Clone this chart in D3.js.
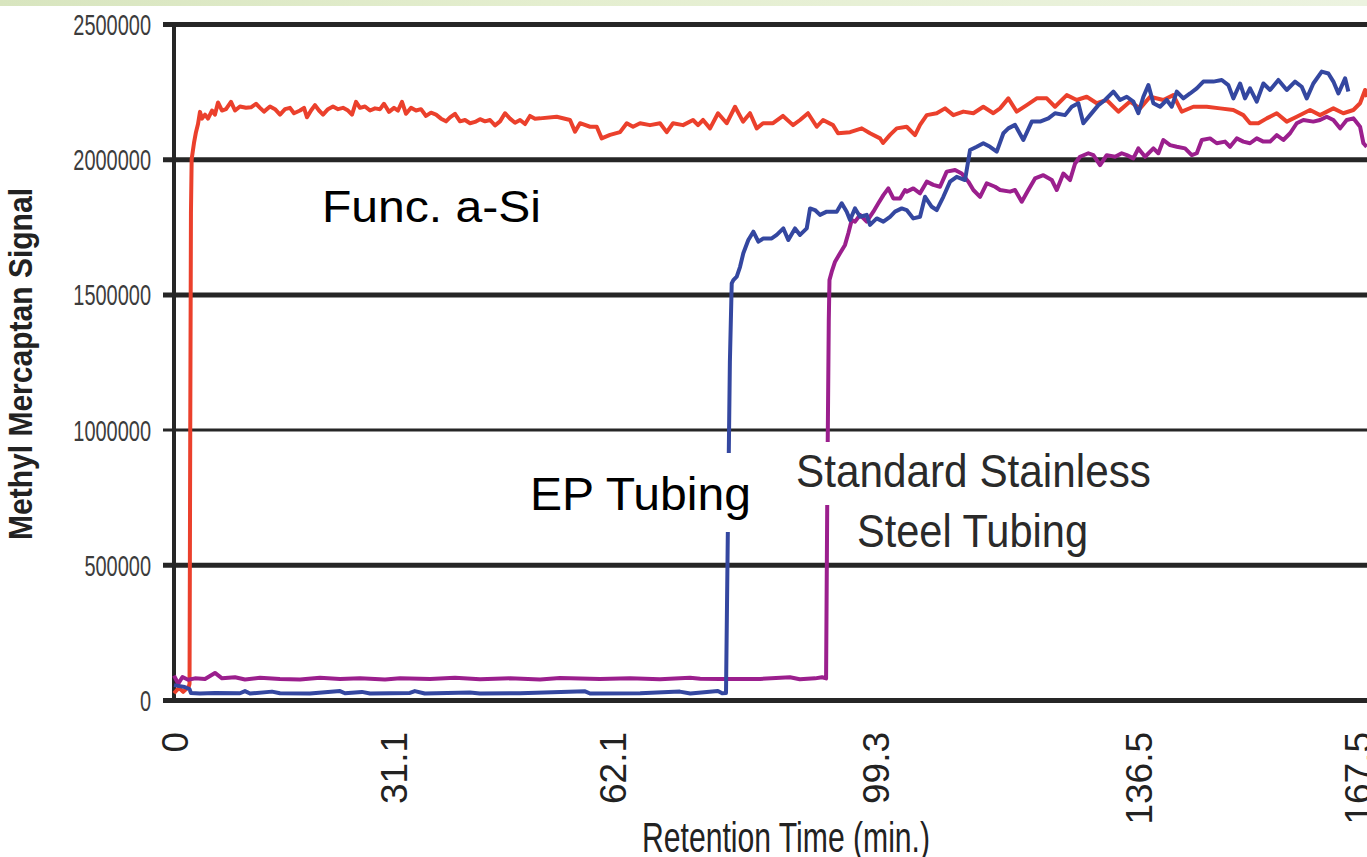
<!DOCTYPE html>
<html>
<head>
<meta charset="utf-8">
<script src="https://cdn.jsdelivr.net/npm/d3@7/dist/d3.min.js"></script>
<style>
  html, body { margin: 0; padding: 0; background: #fff; overflow: hidden; }
  svg { display: block; font-family: "Liberation Sans", Arial, sans-serif; }
</style>
</head>
<body>
<div id="chart"></div>
<script>
// chart values
const yTicks = [0, 500000, 1000000, 1500000, 2000000, 2500000];
const xTicks = [0, 31.1, 62.1, 99.3, 136.5, 167.5];
const xTickLabels = ["0", "31.1", "62.1", "99.3", "136.5", "167.5"];
const xDomain = [0, 168.9];

// [retention time (min), signal]
const funcASi = [
  [0, 25000], [0.7, 45000], [1.3, 30000], [2.1, 50000], [2.2, 60000], [2.3, 1000000], [2.4, 1800000],
  [2.5, 2000000], [2.83, 2060000], [3.11, 2100000], [3.4, 2130000], [3.68, 2175000], [3.96, 2150000],
  [4.39, 2165000], [4.81, 2150000], [5.38, 2180000], [5.8, 2165000], [6.23, 2210000], [6.8, 2180000],
  [7.36, 2185000], [8.07, 2212000], [8.64, 2180000], [9.34, 2195000], [10.19, 2190000], [10.9, 2192000],
  [11.61, 2205000], [12.18, 2190000], [12.74, 2176000], [13.59, 2195000], [14.3, 2185000], [15.01, 2165000],
  [15.72, 2185000], [16.42, 2190000], [16.99, 2170000], [17.84, 2180000], [18.41, 2190000], [18.83, 2155000],
  [19.4, 2180000], [19.96, 2200000], [20.53, 2180000], [21.1, 2165000], [21.8, 2185000], [22.51, 2195000],
  [23.22, 2185000], [23.93, 2190000], [24.64, 2180000], [25.2, 2165000], [25.77, 2212000], [26.33, 2190000],
  [27.04, 2195000], [27.75, 2180000], [28.46, 2188000], [29.17, 2185000], [29.73, 2205000], [30.44, 2175000],
  [31.15, 2190000], [31.71, 2180000], [32.28, 2212000], [32.85, 2168000], [33.56, 2190000], [34.26, 2180000],
  [34.97, 2185000], [35.68, 2160000], [36.39, 2172000], [37.1, 2165000], [37.8, 2150000], [38.51, 2140000],
  [39.08, 2155000], [39.78, 2168000], [40.49, 2140000], [41.2, 2145000], [41.91, 2133000], [42.62, 2138000],
  [43.32, 2148000], [44.03, 2140000], [44.74, 2145000], [45.45, 2125000], [46.16, 2140000], [46.86, 2170000],
  [47.57, 2150000], [48.28, 2135000], [48.99, 2145000], [49.7, 2130000], [50.4, 2160000], [51.11, 2150000],
  [51.82, 2151000], [54.18, 2157000], [56.07, 2145000], [56.77, 2102000], [57.48, 2133000], [58.9, 2120000],
  [59.85, 2120000], [60.55, 2077000], [61.73, 2090000], [63.15, 2100000], [64.1, 2133000], [64.99, 2120000],
  [65.98, 2133000], [67.39, 2126000], [68.81, 2133000], [69.76, 2100000], [70.65, 2133000], [72.07, 2126000],
  [73.48, 2145000], [74.19, 2126000], [74.9, 2145000], [75.89, 2114000], [77.02, 2170000], [78.25, 2133000],
  [79.43, 2194000], [80.56, 2139000], [81.55, 2170000], [82.5, 2114000], [83.39, 2133000], [84.81, 2133000],
  [86.22, 2160000], [87.64, 2126000], [88.63, 2145000], [89.76, 2170000], [91.0, 2120000], [91.89, 2145000],
  [93.3, 2126000], [94.01, 2096000], [95.71, 2100000], [97.37, 2114000], [98.54, 2096000], [99.96, 2077000],
  [100.38, 2060000], [101.37, 2090000], [102.32, 2114000], [103.73, 2120000], [104.91, 2089000], [105.62, 2127000],
  [106.57, 2163000], [107.98, 2170000], [109.16, 2188000], [110.34, 2163000], [111.75, 2176000], [113.17, 2170000],
  [114.58, 2194000], [116.0, 2170000], [116.95, 2188000], [118.12, 2225000], [119.31, 2176000], [120.73, 2200000],
  [122.14, 2225000], [123.56, 2225000], [124.73, 2194000], [126.39, 2237000], [127.81, 2219000], [129.22, 2231000],
  [130.64, 2207000], [132.05, 2219000], [133.7, 2176000], [135.35, 2213000], [136.77, 2188000], [138.19, 2231000],
  [140.07, 2219000], [141.48, 2237000], [142.67, 2176000], [144.32, 2194000], [146.21, 2194000], [148.1, 2188000],
  [149.98, 2182000], [151.39, 2163000], [152.34, 2133000], [153.52, 2133000], [154.71, 2151000], [156.12, 2170000],
  [157.54, 2139000], [158.95, 2157000], [160.84, 2182000], [162.25, 2163000], [164.14, 2188000], [165.55, 2170000],
  [166.97, 2182000], [167.92, 2207000], [168.63, 2256000], [168.9, 2230000]
];

const epTubing = [
  [0, 55000], [1.5, 48000], [2.2, 40000], [2.4, 26000], [3.68, 24000], [5.8, 26000], [9.34, 25000],
  [10.05, 33000], [10.76, 24000], [13.87, 31000], [15.0, 25000], [19.25, 24000], [23.5, 33000], [24.2, 25000],
  [26.6, 30000], [27.75, 24000], [33.4, 26000], [34.1, 33000], [35.5, 24000], [41.9, 28000], [43.3, 24000],
  [49.0, 25000], [58.2, 32000], [58.9, 24000], [66.0, 25000], [71.6, 31000], [73.1, 24000], [77.0, 33000],
  [77.6, 25000], [78.15, 26000], [78.4, 600000], [78.7, 1250000], [78.96, 1541000], [79.19, 1553000],
  [79.67, 1566000], [80.14, 1602000], [80.6, 1652000], [81.31, 1701000], [82.02, 1732000], [82.73, 1695000],
  [83.44, 1707000], [84.62, 1707000], [85.33, 1720000], [86.27, 1744000], [86.97, 1701000], [87.92, 1744000],
  [88.63, 1720000], [89.58, 1744000], [90.05, 1818000], [90.75, 1812000], [91.46, 1794000], [92.41, 1806000],
  [93.83, 1806000], [94.53, 1837000], [95.24, 1806000], [95.71, 1775000], [96.42, 1818000], [97.13, 1787000],
  [98.07, 1794000], [98.54, 1757000], [99.49, 1781000], [100.43, 1769000], [101.37, 1787000], [102.08, 1806000],
  [103.03, 1818000], [103.73, 1812000], [104.67, 1781000], [105.62, 1787000], [106.33, 1861000], [107.28, 1824000],
  [107.98, 1812000], [108.92, 1861000], [109.87, 1917000], [110.81, 1935000], [111.99, 1923000], [112.7, 2034000],
  [113.65, 2046000], [114.58, 2059000], [115.53, 2046000], [116.48, 2028000], [117.42, 2096000], [118.12, 2114000],
  [119.07, 2127000], [120.25, 2071000], [121.44, 2139000], [122.61, 2139000], [123.79, 2151000], [124.73, 2170000],
  [126.15, 2163000], [127.1, 2194000], [128.03, 2207000], [128.74, 2133000], [129.69, 2163000], [130.87, 2200000],
  [131.81, 2219000], [132.99, 2250000], [133.94, 2219000], [134.89, 2231000], [135.82, 2213000], [136.53, 2170000],
  [137.24, 2231000], [137.95, 2274000], [138.66, 2207000], [139.6, 2194000], [140.55, 2219000], [141.26, 2194000],
  [141.97, 2250000], [142.9, 2225000], [143.85, 2243000], [144.8, 2262000], [145.73, 2287000], [147.15, 2287000],
  [148.34, 2293000], [149.27, 2274000], [149.98, 2225000], [150.93, 2280000], [151.63, 2225000], [152.34, 2262000],
  [153.29, 2213000], [154.23, 2280000], [155.18, 2256000], [156.35, 2293000], [157.54, 2256000], [158.71, 2287000],
  [159.66, 2268000], [160.37, 2225000], [161.3, 2280000], [162.49, 2324000], [163.43, 2317000], [164.14, 2287000],
  [164.85, 2243000], [165.8, 2299000], [166.26, 2250000]
];

const stainless = [
  [0, 90000], [0.6, 60000], [1.2, 85000], [2.0, 75000], [2.97, 80000], [4.39, 78000], [5.8, 100000],
  [6.8, 80000], [8.64, 84000], [10.05, 76000], [12.18, 82000], [15.0, 78000], [17.84, 76000], [20.67, 82000],
  [23.5, 78000], [26.33, 80000], [29.87, 76000], [32.0, 80000], [36.25, 78000], [39.78, 82000], [43.32, 77000],
  [47.57, 80000], [51.82, 76000], [54.65, 81000], [60.3, 78000], [64.56, 80000], [68.8, 77000], [73.06, 82000],
  [74.5, 79000], [77.3, 78000], [82.97, 78000], [87.2, 84000], [88.6, 77000], [90.76, 80000], [91.75, 84000],
  [92.32, 80000], [92.5, 800000], [92.7, 1400000], [92.8, 1553000], [93.12, 1584000], [93.59, 1621000],
  [94.29, 1652000], [95.0, 1683000], [95.47, 1726000], [95.95, 1775000], [96.42, 1769000], [97.13, 1794000],
  [98.07, 1769000], [99.01, 1806000], [99.72, 1837000], [100.43, 1867000], [101.13, 1892000], [101.84, 1855000],
  [102.79, 1855000], [103.5, 1886000], [103.73, 1880000], [104.67, 1892000], [105.62, 1874000], [106.57, 1917000],
  [107.5, 1905000], [108.45, 1898000], [109.4, 1954000], [110.58, 1960000], [111.52, 1947000], [112.46, 1917000],
  [113.17, 1886000], [114.12, 1861000], [115.06, 1911000], [116.24, 1898000], [116.95, 1886000], [118.36, 1880000],
  [119.07, 1886000], [120.02, 1843000], [120.95, 1886000], [121.9, 1929000], [123.08, 1941000], [124.27, 1923000],
  [124.98, 1886000], [125.91, 1947000], [126.86, 1923000], [127.57, 1984000], [128.27, 2009000], [129.45, 2022000],
  [130.16, 2015000], [131.11, 1978000], [132.05, 2015000], [133.23, 2009000], [134.18, 2022000], [134.89, 2015000],
  [135.82, 2003000], [136.53, 2040000], [137.48, 2009000], [138.66, 2040000], [139.36, 2022000], [140.07, 2071000],
  [141.02, 2052000], [141.97, 2046000], [143.14, 2040000], [144.09, 2015000], [144.8, 2022000], [145.51, 2071000],
  [146.68, 2077000], [147.63, 2059000], [148.8, 2065000], [149.51, 2046000], [150.46, 2077000], [151.39, 2065000],
  [152.34, 2059000], [153.29, 2077000], [154.23, 2065000], [155.18, 2065000], [156.12, 2089000], [157.06, 2071000],
  [158.01, 2096000], [158.95, 2133000], [159.89, 2145000], [161.3, 2139000], [162.25, 2145000], [163.2, 2157000],
  [164.14, 2145000], [165.09, 2114000], [166.03, 2145000], [166.97, 2151000], [167.92, 2120000], [168.39, 2059000],
  [168.86, 2046000]
];

const seriesColors = ["#eb402c", "#9b1f8d", "#3447a0"];

const width = 1367;
const height = 857;

const svg = d3.select("#chart")
  .append("svg")
  .attr("width", width)
  .attr("height", height);

// faint green slide background at the top edge
const defs = svg.append("defs");
const grad = defs.append("linearGradient").attr("id", "topband");
grad.append("stop").attr("offset", "0%").attr("stop-color", "#d8e5bf");
grad.append("stop").attr("offset", "40%").attr("stop-color", "#e4eecf");
grad.append("stop").attr("offset", "100%").attr("stop-color", "#ecf3e0");
svg.append("rect")
  .attr("x", 0).attr("y", 0)
  .attr("width", width).attr("height", 6)
  .attr("fill", "url(#topband)");

const x = d3.scaleLinear().domain(xDomain).range([174, 1367]);
const y = d3.scaleLinear().domain([0, 2500000]).range([700, 24]);

// horizontal grid lines (these also form the top and bottom frame)
const grid = svg.append("g")
  .attr("transform", "translate(163,0)")
  .call(d3.axisLeft(y).tickValues(yTicks).tickSizeInner(-(width - 163)).tickSizeOuter(0).tickFormat(""));
grid.select(".domain").remove();
grid.selectAll(".tick line")
  .attr("stroke", "#262626")
  .attr("stroke-width", (d) => (d === 1000000 ? 3 : 5));

// y tick labels
const yAxis = svg.append("g")
  .attr("transform", "translate(163,0)")
  .call(d3.axisLeft(y).tickValues(yTicks).tickSize(0).tickPadding(12).tickFormat(d3.format("d")));
yAxis.select(".domain").remove();
yAxis.selectAll("text")
  .attr("font-size", 30)
  .attr("fill", "#3c3c3c")
  .attr("dy", "0.35em")
  .attr("textLength", (d) => String(d).length * 11.1)
  .attr("lengthAdjust", "spacingAndGlyphs");

// left axis line
svg.append("line")
  .attr("x1", x(0)).attr("x2", x(0))
  .attr("y1", y(2500000)).attr("y2", y(0))
  .attr("stroke", "#262626")
  .attr("stroke-width", 4);

// x tick labels, rotated
const xAxis = svg.append("g")
  .attr("transform", `translate(0,${y(0)})`)
  .call(d3.axisBottom(x).tickValues(xTicks).tickSize(0).tickFormat((d, i) => xTickLabels[i]));
xAxis.select(".domain").remove();
xAxis.selectAll("text")
  .attr("transform", "rotate(-90)")
  .attr("x", -32)
  .attr("y", 0)
  .attr("dy", "0.36em")
  .attr("text-anchor", "end")
  .attr("font-size", 37)
  .attr("fill", "#222");

// the three traces
const line = d3.line()
  .x((d) => x(d[0]))
  .y((d) => y(d[1]));

const traces = [funcASi, stainless, epTubing];
svg.append("g")
  .selectAll("path")
  .data(traces)
  .enter()
  .append("path")
  .attr("d", line)
  .attr("fill", "none")
  .attr("stroke", (d, i) => seriesColors[i])
  .attr("stroke-width", 4)
  .attr("stroke-linejoin", "round");

// white boxes behind the in-plot labels
svg.append("rect").attr("x", 528).attr("y", 453).attr("width", 232).attr("height", 79).attr("fill", "#fff");
svg.append("rect").attr("x", 790).attr("y", 442).attr("width", 368).attr("height", 63).attr("fill", "#fff");

const notes = [
  { text: "Func. a-Si", x: 322, y: 222, size: 45, len: 219, color: "#000" },
  { text: "EP Tubing", x: 530, y: 510, size: 47, len: 221, color: "#000" },
  { text: "Standard Stainless", x: 796, y: 487, size: 47, len: 355, color: "#2a2a2a" },
  { text: "Steel Tubing", x: 857, y: 547, size: 47, len: 231, color: "#2a2a2a" }
];
svg.append("g")
  .selectAll("text")
  .data(notes)
  .enter()
  .append("text")
  .attr("x", (d) => d.x)
  .attr("y", (d) => d.y)
  .attr("font-size", (d) => d.size)
  .attr("fill", (d) => d.color)
  .attr("textLength", (d) => d.len)
  .attr("lengthAdjust", "spacingAndGlyphs")
  .text((d) => d.text);

// axis titles
svg.append("text")
  .attr("transform", "rotate(-90)")
  .attr("x", -364)
  .attr("y", 32)
  .attr("text-anchor", "middle")
  .attr("font-size", 33)
  .attr("font-weight", "bold")
  .attr("fill", "#222")
  .attr("textLength", 352)
  .attr("lengthAdjust", "spacingAndGlyphs")
  .text("Methyl Mercaptan Signal");

svg.append("text")
  .attr("x", 786)
  .attr("y", 852)
  .attr("text-anchor", "middle")
  .attr("font-size", 42)
  .attr("fill", "#222")
  .attr("textLength", 288)
  .attr("lengthAdjust", "spacingAndGlyphs")
  .text("Retention Time (min.)");
</script>
</body>
</html>
